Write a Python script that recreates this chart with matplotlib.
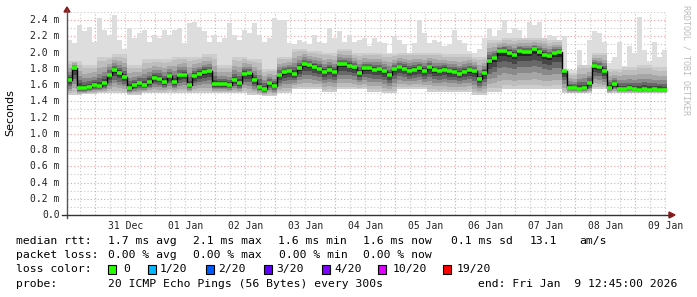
import numpy as np
import matplotlib
matplotlib.use("Agg")
import matplotlib.pyplot as plt
import matplotlib.dates as mdates

# median rtt (ms), one value per 2 hours starting 30 Dec 12:45
median = [1.66, 1.81, 1.57, 1.56, 1.575, 1.60, 1.59, 1.62, 1.72, 1.785,
          1.745, 1.70, 1.57, 1.60, 1.62, 1.60, 1.64, 1.69, 1.68, 1.64,
          1.71, 1.64, 1.72, 1.73, 1.60, 1.71, 1.74, 1.76, 1.77, 1.61,
          1.61, 1.61, 1.60, 1.66, 1.62, 1.735, 1.745, 1.66, 1.58, 1.555,
          1.63, 1.59, 1.72, 1.76, 1.775, 1.74, 1.81, 1.86, 1.85, 1.825,
          1.80, 1.765, 1.79, 1.76, 1.86, 1.855, 1.84, 1.82, 1.75, 1.81,
          1.805, 1.79, 1.795, 1.77, 1.72, 1.80, 1.825, 1.80, 1.775, 1.79,
          1.805, 1.77, 1.82, 1.78, 1.775, 1.79, 1.77, 1.765, 1.74, 1.765,
          1.785, 1.77, 1.67, 1.75, 1.90, 1.93, 2.02, 2.02, 2.00, 1.97,
          2.02, 2.01, 2.01, 2.04, 2.01, 1.97, 1.96, 2.00, 2.005, 1.77,
          1.57, 1.56, 1.555, 1.56, 1.62, 1.835, 1.82, 1.77, 1.57, 1.61,
          1.555, 1.555, 1.56, 1.555, 1.545, 1.555, 1.545, 1.555, 1.545, 1.54]

# highest ping in each 2 hour step (ms)
ping_max = [2.15, 2.12, 2.34, 2.26, 2.32, 2.13, 2.42, 2.28, 2.22, 2.46,
            2.15, 2.05, 2.30, 2.18, 2.24, 2.28, 2.13, 2.22, 2.18, 2.28,
            2.22, 2.28, 2.30, 2.12, 2.36, 2.38, 2.32, 2.26, 2.13, 2.22,
            2.13, 2.18, 2.36, 2.22, 2.15, 2.28, 2.24, 2.36, 2.22, 2.13,
            2.18, 2.42, 2.40, 2.40, 2.12, 2.10, 2.15, 2.13, 2.10, 2.22,
            2.13, 2.12, 2.30, 2.18, 2.26, 2.13, 2.22, 2.13, 2.15, 2.18,
            2.08, 2.18, 2.13, 2.12, 2.00, 2.20, 2.15, 2.10, 1.99, 2.12,
            2.40, 2.24, 2.12, 2.15, 2.13, 2.08, 2.10, 2.28, 2.15, 2.12,
            2.02, 2.00, 2.05, 2.18, 2.30, 2.20, 2.28, 2.40, 2.24, 2.30,
            2.28, 2.18, 2.38, 2.34, 2.38, 2.18, 2.22, 2.20, 2.13, 2.20,
            1.79, 1.79, 2.03, 1.80, 2.15, 2.26, 2.24, 2.13, 1.87, 1.95,
            2.13, 1.83, 2.08, 2.00, 2.44, 2.03, 1.88, 2.13, 1.95, 2.03]

# top of the dense smoke and lowest ping, one value per 6 hours
band_top = [1.90, 1.85, 1.95, 1.98, 1.85, 1.92, 1.92, 1.95, 1.95, 1.98,
            1.85, 1.95, 1.92, 1.80, 1.95, 2.05, 2.02, 2.00, 2.05, 2.00,
            2.00, 1.98, 2.00, 2.00, 2.00, 1.98, 1.98, 1.95, 2.15, 2.18,
            2.18, 2.18, 2.15, 1.75, 1.85, 2.00, 1.80, 1.82, 1.85, 1.82]
ping_min = [1.48, 1.49, 1.50, 1.50, 1.48, 1.50, 1.50, 1.50, 1.50, 1.50,
            1.50, 1.50, 1.48, 1.47, 1.50, 1.55, 1.55, 1.52, 1.55, 1.55,
            1.52, 1.50, 1.55, 1.55, 1.52, 1.52, 1.52, 1.48, 1.52, 1.55,
            1.55, 1.55, 1.55, 1.50, 1.50, 1.55, 1.50, 1.50, 1.50, 1.50]

day_labels = ["31 Dec", "01 Jan", "02 Jan", "03 Jan", "04 Jan",
              "05 Jan", "06 Jan", "07 Jan", "08 Jan", "09 Jan"]
loss_labels = ["0", "1/20", "2/20", "3/20", "4/20", "10/20", "19/20"]
loss_colors = ["#26ff00", "#00b8ff", "#0059ff", "#5e00ff", "#7e00ff", "#dd00ff", "#ff0000"]

start = np.datetime64("2025-12-30T12:45")
end = np.datetime64("2026-01-09T12:45")
edges = start + np.arange(len(median) + 1) * np.timedelta64(2, "h")
t = mdates.date2num(edges.astype("datetime64[s]").astype(object))

med = np.array(median)
mx = np.array(ping_max)
top = np.repeat(band_top, 3)
lo = np.repeat(ping_min, 3)


def ext(a):
    return np.append(a, a[-1])


W, H = 697, 297
fig = plt.figure(figsize=(W / 100, H / 100), dpi=100)
ax = fig.add_axes([67 / W, 1 - 215 / H, 600 / W, 203 / H])
mono = "DejaVu Sans Mono"

# smoke
ax.fill_between(t, ext(lo), ext(mx), step="post", color="#dddddd", lw=0)
ax.fill_between(t, ext(lo), ext(top), step="post", color="#cdcdcd", lw=0)
for f, g, c in [(0.85, 0.9, "#bdbdbd"), (0.62, 0.75, "#a6a6a6"), (0.42, 0.58, "#8a8a8a"),
                (0.27, 0.42, "#686868"), (0.15, 0.26, "#474747"), (0.06, 0.12, "#262626")]:
    up = med + f * (top - med)
    dn = med - g * (med - lo)
    ax.fill_between(t, ext(dn), ext(up), step="post", color=c, lw=0)

# median: black connectors, green steps
ax.step(t, ext(med), where="post", color="black", lw=1.0, zorder=3)
ax.hlines(med, t[:-1], t[1:], color="#26ff00", lw=2.6, zorder=4)

ax.set_ylim(0, 2.5)
ax.set_xlim(t[0], mdates.date2num(end.astype("datetime64[s]").astype(object)))

# grid
ax.set_yticks(np.arange(0, 2.45, 0.2))
ax.set_yticks(np.arange(0.1, 2.55, 0.2), minor=True)
ax.xaxis.set_major_locator(mdates.DayLocator())
ax.xaxis.set_minor_locator(mdates.HourLocator(byhour=[6, 12, 18]))
ax.grid(which="minor", color="#c8c8c8", lw=0.8, ls=(0, (1, 2)))
ax.grid(which="major", color="#f0a0a0", lw=0.8, ls=(0, (1, 2)))
ax.set_axisbelow(True)
for s in ax.spines.values():
    s.set_visible(False)
ax.tick_params(which="both", length=0)
ax.set_xticklabels([])
ax.set_yticklabels([])

# y tick labels
for v in np.arange(0, 2.45, 0.2):
    lab = "0.0" if v < 0.01 else f"{v:.1f} m"
    ax.text(-0.012, v, lab, transform=ax.get_yaxis_transform(), ha="right", va="center",
            fontsize=7, family=mono, color="#222222")

# x tick labels at noon
noon = start.astype("datetime64[D]") + np.timedelta64(1, "D") + np.timedelta64(12, "h")
for k, lab in enumerate(day_labels):
    d = mdates.date2num((noon + np.timedelta64(k, "D")).astype("datetime64[s]").astype(object))
    ax.text(d, -0.03, lab, transform=ax.get_xaxis_transform(), ha="center", va="top",
            fontsize=7, family=mono, color="#222222")

# axes with arrows
def px(x, y):
    return (x / W, 1 - y / H)

fig.add_artist(plt.Line2D([px(67, 0)[0]] * 2, [px(0, 218)[1], px(0, 10)[1]], color="#555555", lw=1))
fig.add_artist(plt.Line2D([px(62, 0)[0], px(670, 0)[0]], [px(0, 215)[1]] * 2, color="#333333", lw=1))
fig.add_artist(plt.Polygon([px(64, 12), px(70, 12), px(67, 7)], closed=True, color="#8b1a1a"))
fig.add_artist(plt.Polygon([px(669, 212), px(669, 218), px(675, 215)], closed=True, color="#8b1a1a"))

fig.text(10 / W, 1 - 113 / H, "Seconds", rotation=90, ha="center", va="center", fontsize=8)
fig.text(686 / W, 1 - 5 / H, "RRDTOOL / TOBI OETIKER", rotation=270, ha="center", va="top",
         fontsize=6, family=mono, color="#bbbbbb")

fs = 8.2
def put(x, y, s, **kw):
    fig.text(x / W, 1 - y / H, s, ha="left", va="center", fontsize=fs, family=mono, **kw)

put(16, 241, "median rtt:")
for x, s in [(108, "1.7 ms avg"), (193, "2.1 ms max"), (278, "1.6 ms min"),
             (363, "1.6 ms now"), (451, "0.1 ms sd"), (530, "13.1"), (579, "am/s")]:
    put(x, 241, s)
put(16, 255, "packet loss:")
for x, s in [(108, "0.00 % avg"), (193, "0.00 % max"), (279, "0.00 % min"), (363, "0.00 % now")]:
    put(x, 255, s)
put(16, 269, "loss color:")
box_x = [108, 148, 206, 264, 322, 378, 443]
lab_x = [123, 160, 218, 276, 334, 393, 457]
for bx, lx, lab, c in zip(box_x, lab_x, loss_labels, loss_colors):
    fig.add_artist(plt.Rectangle(px(bx, 274), 8 / W, 9 / H, facecolor=c, edgecolor="black", lw=0.8))
    put(lx, 269, lab)
put(16, 284, "probe:")
put(108, 284, "20 ICMP Echo Pings (56 Bytes) every 300s")
put(478, 284, "end: Fri Jan  9 12:45:00 2026")

fig.savefig("out.png", dpi=100, facecolor="white")
